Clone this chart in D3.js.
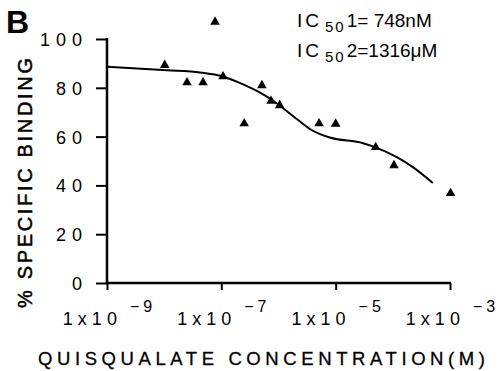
<!DOCTYPE html>
<html>
<head>
<meta charset="utf-8">
<script src="https://cdn.jsdelivr.net/npm/d3@7"></script>
<style>
  html, body { margin: 0; padding: 0; background: #fff; }
  svg { display: block; font-family: 'Liberation Sans', Arial, sans-serif; }
</style>
</head>
<body>
<svg id="chart" width="502" height="371"></svg>
<script>
// measured points: log10 concentration (M), % specific binding
const pointLogX = [-7.99, -7.6, -7.32, -7.11, -6.97, -6.6, -6.29, -6.13, -5.98, -5.29, -5.0, -4.3, -3.98, -2.99];
const pointY = [89.3, 82.2, 82.2, 107, 84.6, 65.4, 81, 74.6, 72.8, 65.4, 65.2, 55.6, 48.2, 36.8];

// fitted two-site curve
const curveLogX = [-9, -7.95, -7.37, -6.97, -6.71, -6.27, -6.1, -5.68, -5.4, -5.1, -4.52, -4.28, -3.93, -3.65, -3.3];
const curveY = [88.6, 87.2, 86.3, 84.6, 82.3, 77.3, 74.8, 67.2, 62.4, 59.6, 57.3, 55.4, 51.6, 47.5, 41.0];

const yTicks = [0, 20, 40, 60, 80, 100];
const xTickExp = [-9, -7, -5, -3];

const svg = d3.select('#chart');
const x = d3.scaleLog().domain([1e-9, 1e-3]).range([107, 450]);
const y = d3.scaleLinear().domain([0, 100]).range([283, 39]);

const ink = '#000';

// y axis
const yAxis = svg.append('g')
  .attr('transform', `translate(${x.range()[0]},0)`)
  .call(d3.axisLeft(y).tickValues(yTicks).tickSize(11).tickSizeOuter(0).tickPadding(8));
yAxis.select('.domain').attr('stroke', ink).attr('stroke-width', 2.5)
  .attr('d', `M0,${y(100) - 1}V${y(0) + 1}`);
yAxis.selectAll('.tick line').attr('stroke', ink).attr('stroke-width', 2);
yAxis.selectAll('.tick text')
  .attr('fill', ink)
  .attr('font-size', 18)
  .attr('letter-spacing', 6)
  .attr('dy', '0.36em')
  .attr('font-family', "'Liberation Sans', Arial, sans-serif");

// x axis
const xAxis = svg.append('g')
  .attr('transform', `translate(0,${y.range()[0]})`)
  .call(d3.axisBottom(x).tickValues(xTickExp.map(e => Math.pow(10, e))).tickSize(7).tickSizeOuter(0).tickFormat(''));
xAxis.select('.domain').attr('stroke', ink).attr('stroke-width', 2.5)
  .attr('d', `M${x.range()[0] - 1},0H${x.range()[1] + 1}`);
xAxis.selectAll('.tick line').attr('stroke', ink).attr('stroke-width', 2);
xAxis.selectAll('.tick text').remove();
xAxis.selectAll('.tick').each(function(d) {
  const t = d3.select(this).append('text')
    .attr('x', 2)
    .attr('y', 42)
    .attr('fill', ink)
    .attr('text-anchor', 'middle')
    .attr('font-size', 18)
    .attr('font-family', "'Liberation Sans', Arial, sans-serif");
  t.append('tspan').attr('letter-spacing', 5).text('1x10');
  t.append('tspan').attr('font-size', 16).attr('dy', -13).attr('dx', 8)
    .attr('letter-spacing', 4)
    .text('\u2212' + Math.round(-Math.log10(d)));
});

// curve
const line = d3.line()
  .x((d, i) => x(Math.pow(10, curveLogX[i])))
  .y((d, i) => y(curveY[i]))
  .curve(d3.curveMonotoneX);
svg.append('path')
  .datum(curveY)
  .attr('d', line)
  .attr('fill', 'none')
  .attr('stroke', ink)
  .attr('stroke-width', 2);

// points
const tri = d3.symbol().type(d3.symbolTriangle).size(40);
svg.append('g').selectAll('path')
  .data(pointY)
  .join('path')
  .attr('d', tri)
  .attr('fill', ink)
  .attr('transform', (d, i) => `translate(${x(Math.pow(10, pointLogX[i]))},${y(d)})`);

// axis titles
svg.append('text')
  .attr('transform', 'translate(32,183) rotate(-90)')
  .attr('text-anchor', 'middle')
  .attr('font-size', 20)
  .attr('textLength', 250)
  .attr('lengthAdjust', 'spacing')
  .attr('fill', ink)
  .attr('stroke', ink)
  .attr('stroke-width', 0.5)
  .text('% SPECIFIC BINDING');

svg.append('text')
  .attr('x', 38)
  .attr('y', 365)
  .attr('font-size', 18.5)
  .attr('textLength', 447)
  .attr('lengthAdjust', 'spacing')
  .attr('fill', ink)
  .attr('stroke', ink)
  .attr('stroke-width', 0.3)
  .text('QUISQUALATE CONCENTRATION(M)');

// panel letter
svg.append('text')
  .attr('x', 6)
  .attr('y', 33)
  .attr('font-size', 32)
  .attr('font-weight', 'bold')
  .attr('fill', ink)
  .text('B');

// IC50 annotation
const ic = [
  { sub: '1', rest: '= 748nM', base: 27 },
  { sub: '2', rest: '=1316\u03bcM', base: 57 },
];
ic.forEach(r => {
  const t = svg.append('text')
    .attr('x', 297)
    .attr('y', r.base)
    .attr('font-size', 19)
    .attr('fill', ink);
  t.append('tspan').attr('letter-spacing', 3).text('IC');
  t.append('tspan').attr('font-size', 15).attr('dy', 5).attr('dx', 3).attr('letter-spacing', 2).text('50');
  t.append('tspan').attr('dy', -5).attr('dx', 1).text(r.sub + r.rest);
});
</script>
</body>
</html>
